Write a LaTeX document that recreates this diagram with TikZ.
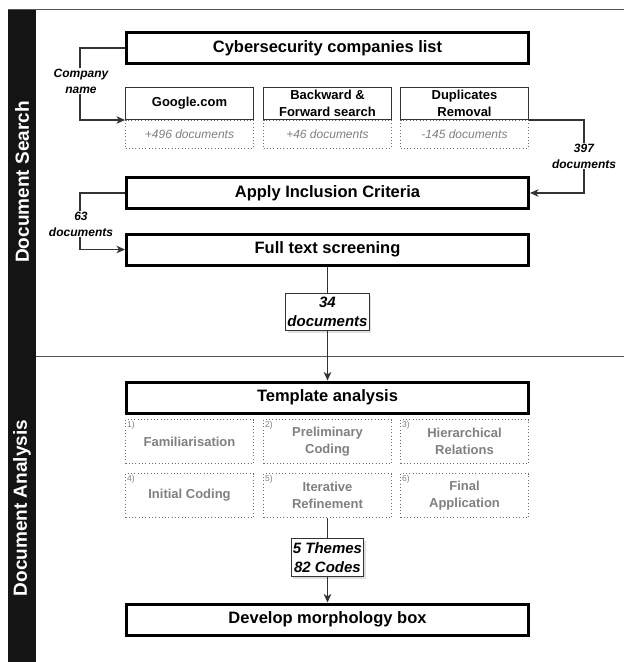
\documentclass[tikz,border=0pt]{standalone}
\usepackage{fontspec}
\setmainfont{Liberation Sans}
\usetikzlibrary{arrows.meta,shadows}
\definecolor{lineC}{HTML}{333333}
\definecolor{grayT}{HTML}{808080}
\definecolor{dotC}{HTML}{6E6E6E}
\definecolor{bandC}{HTML}{141414}
\definecolor{frameC}{HTML}{555555}
\tikzset{
  mainbox/.style={draw=black, line width=3pt, fill=white, minimum width=402pt, minimum height=31pt, inner sep=0pt, font=\fontsize{16.5}{19}\selectfont\bfseries},
  subbox/.style={draw=lineC, line width=1pt, fill=white, minimum width=128pt, minimum height=32pt, inner sep=0pt, align=center, font=\fontsize{13}{16.5}\selectfont\bfseries},
  dotbox/.style={draw=dotC, line width=1pt, dash pattern=on 0.9pt off 2.4pt, minimum width=128pt, inner sep=0pt, align=center, text=grayT},
  topcount/.style={dotbox, minimum height=28pt, font=\fontsize{12}{14}\selectfont\itshape},
  cell/.style={dotbox, minimum height=44pt, font=\fontsize{13}{17}\selectfont\bfseries},
  cellnum/.style={anchor=north west, inner sep=0pt, text=grayT, font=\fontsize{8.5}{9}\selectfont},
  countbox/.style={draw=lineC, line width=1pt, fill=white, drop shadow={opacity=0.25, shadow xshift=2pt, shadow yshift=-2pt}, align=center, inner xsep=1.5pt, inner ysep=0pt, font=\fontsize{15}{19}\selectfont\bfseries\itshape},
  lbl/.style={fill=white, align=center, inner sep=1pt, font=\fontsize{12}{16}\selectfont\bfseries\itshape},
  bandlbl/.style={rotate=90, text=white, inner sep=0pt, font=\fontsize{19}{22}\selectfont\bfseries},
  conn/.style={draw=lineC, line width=1.1pt},
  arr/.style={conn, -{Stealth[length=8.5pt,width=7.5pt,inset=2.5pt]}}
}
\begin{document}
\begin{tikzpicture}[x=1pt,y=-1pt]
\useasboundingbox (0,0) rectangle (624,662);
\fill[white] (0,0) rectangle (624,662);
% lanes
\fill[bandC] (8,9) rectangle (36,662);
\draw[frameC, line width=1pt] (8,9) -- (624,9);
\draw[frameC, line width=1pt] (36,356) -- (624,356);
\node[bandlbl] (bandS) at (22,182) {Document Search};
\node[bandlbl] (bandA) at (22,508) {Document Analysis};

% document search
\node[mainbox] (cyber) at (327.5,48) {Cybersecurity companies list};
\node[subbox] (google) at (189.5,103.5) {Google.com};
\node[subbox] (bf) at (327.5,103.5) {Backward \&\\Forward search};
\node[subbox] (dup) at (464.5,103.5) {Duplicates\\Removal};
\node[topcount] (gcount) at (189.5,134) {+496 documents};
\node[topcount] (bfcount) at (327.5,134) {+46 documents};
\node[topcount] (dupcount) at (464.5,134) {-145 documents};
\node[mainbox] (apply) at (327.5,193) {Apply Inclusion Criteria};
\node[mainbox] (full) at (327.5,249.5) {Full text screening};
\node[countbox, minimum width=82pt, minimum height=37pt] (d34) at (327.5,312) {34\\documents};

% document analysis
\node[mainbox] (templ) at (327.5,397.5) {Template analysis};
\node[cell] (c1) at (189.5,441.5) {Familiarisation};
\node[cell] (c2) at (327.5,441.5) {Preliminary\\Coding};
\node[cell] (c3) at (464.5,441.5) {Hierarchical\\Relations};
\node[cell] (c4) at (189.5,495.5) {Initial Coding};
\node[cell] (c5) at (327.5,495.5) {Iterative\\Refinement};
\node[cell] (c6) at (464.5,495.5) {Final\\Application};
\node[cellnum] (n1) at ([shift={(2pt,-2pt)}]c1.north west) {1)};
\node[cellnum] (n2) at ([shift={(2pt,-2pt)}]c2.north west) {2)};
\node[cellnum] (n3) at ([shift={(2pt,-2pt)}]c3.north west) {3)};
\node[cellnum] (n4) at ([shift={(2pt,-2pt)}]c4.north west) {4)};
\node[cellnum] (n5) at ([shift={(2pt,-2pt)}]c5.north west) {5)};
\node[cellnum] (n6) at ([shift={(2pt,-2pt)}]c6.north west) {6)};
\node[countbox, minimum width=71pt, minimum height=38pt] (themes) at (327.5,557.5) {5 Themes\\82 Codes};
\node[mainbox] (develop) at (327.5,619.5) {Develop morphology box};

% connectors
\draw[arr] (cyber.west) -- ++(-45,0) |- (google.south west);
\draw[arr] (dup.south east) -- ++(55,0) |- (apply.east);
\draw[arr] (apply.west) -- ++(-45,0) |- (full.west);
\draw[conn] (full.south) -- (d34.north);
\draw[arr] (d34.south) -- (templ.north);
\draw[conn] (c5.south) -- (themes.north);
\draw[arr] (themes.south) -- (develop.north);

% connector labels
\node[lbl] (lcomp) at (81,81) {Company\\name};
\node[lbl] (l397) at (584,156) {397\\documents};
\node[lbl] (l63) at (81,224) {63\\documents};
\end{tikzpicture}
\end{document}
